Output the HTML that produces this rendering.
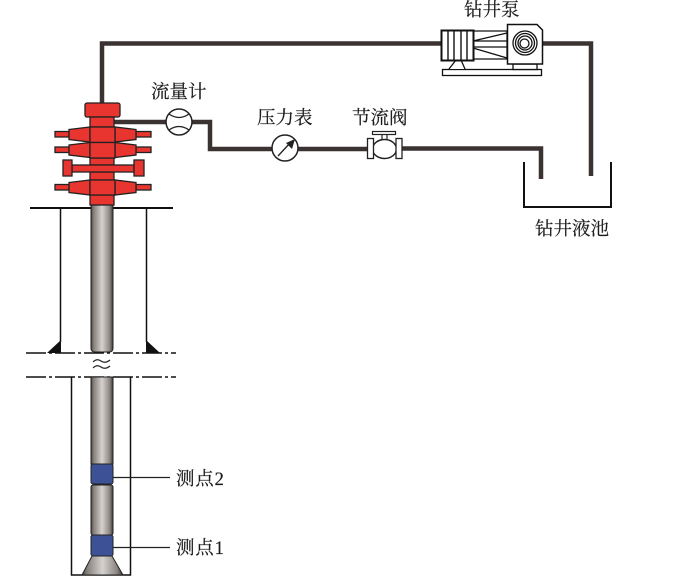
<!DOCTYPE html>
<html><head><meta charset="utf-8">
<style>
html,body{margin:0;padding:0;background:#fff}
svg{display:block}
text{font-family:"Liberation Serif","Noto Serif CJK SC",serif;font-size:18.500px;fill:#1c1c1c;stroke:#1c1c1c;stroke-width:.2px}
</style></head><body>
<svg width="700" height="577" viewBox="0 0 700 577" xmlns="http://www.w3.org/2000/svg">
<defs>
<linearGradient id="p" x1="0" x2="1" y1="0" y2="0">
<stop offset="0" stop-color="#4a4644"/><stop offset=".12" stop-color="#857f7c"/><stop offset=".5" stop-color="#d6d2cf"/><stop offset=".85" stop-color="#8d8683"/><stop offset="1" stop-color="#3e3a38"/>
</linearGradient>
</defs>
<!-- pipes -->
<g fill="none" stroke="#3b3331" stroke-width="4.500">
<path d="M102 104V43.500H443"/>
<path d="M543 43.500H591V176"/>
<path d="M114 122H210V149H367"/>
<path d="M402 148.500H541V179"/>
</g>
<!-- tank -->
<path d="M524 162V207H611V162" fill="none" stroke="#111" stroke-width="2"/>
<!-- ground -->
<g stroke="#111" fill="none">
<path d="M30 208H173" stroke-width="2"/>
<path d="M60.500 208V342M146.500 208V342" stroke-width="1.500"/>
<path d="M26 353H176M26 377H176" stroke-width="1.500" stroke-dasharray="20 3 3 3"/>
<path d="M71.500 377V575H130.500V377" stroke-width="1.500"/>
</g>
<path d="M47 353L61 340V353Z" fill="#111"/>
<path d="M146 340L160 353H146Z" fill="#111"/>
<!-- drill pipe -->
<g stroke="#222" stroke-width="1">
<path d="M91 205H113V348Q113 352 109 352H95Q91 352 91 348Z" fill="url(#p)"/>
<rect x="91" y="377" width="22" height="87" fill="url(#p)"/>
<rect x="91" y="485" width="22" height="50" rx="2" fill="url(#p)"/>
<path d="M92 556H112L123 575H82Z" fill="url(#p)"/>
<rect x="91" y="464" width="22" height="20" rx="2" fill="#3d5196"/>
<rect x="91" y="535" width="22" height="21" rx="2" fill="#3d5196"/>
</g>
<path d="M113 477.500H170M113 547.500H170" stroke="#222" stroke-width="1.300"/>
<text x="176" y="485" letter-spacing=".8">测点2</text>
<text x="176" y="554" letter-spacing=".8">测点1</text>
<path d="M93 362Q97 358 101 361T110 360M93 368Q97 364 101 367T110 366" fill="none" stroke="#222" stroke-width="1.200"/>
<!-- wellhead -->
<g fill="#e8352f" stroke="#222" stroke-width="1.300">
<rect x="85" y="103" width="35" height="14" rx="2"/>
<rect x="90" y="117" width="24" height="10"/>
<rect x="90" y="158" width="24" height="7"/>
<rect x="90" y="172" width="24" height="8"/>
<rect x="90" y="195" width="24" height="10"/>
<g>
<rect x="55" y="131.500" width="14" height="5.500"/>
<rect x="136" y="131.500" width="15" height="5.500"/>
<path d="M69 129.500L90 127V142L69 139.500Z"/>
<path d="M136 129.500L115 127V142L136 139.500Z"/>
<rect x="90" y="127" width="25" height="15.500"/>
</g>
<g transform="translate(0,15.500)">
<rect x="55" y="131.500" width="14" height="5.500"/>
<rect x="136" y="131.500" width="15" height="5.500"/>
<path d="M69 129.500L90 127V142L69 139.500Z"/>
<path d="M136 129.500L115 127V142L136 139.500Z"/>
<rect x="90" y="127" width="25" height="15.500"/>
</g>
<g transform="translate(0,53)">
<rect x="55" y="131.500" width="14" height="5.500"/>
<rect x="136" y="131.500" width="15" height="5.500"/>
<path d="M69 129.500L90 127V142L69 139.500Z"/>
<path d="M136 129.500L115 127V142L136 139.500Z"/>
<rect x="90" y="127" width="25" height="15"/>
</g>
<rect x="72" y="165" width="62" height="7"/>
<rect x="63" y="160" width="9" height="16"/>
<rect x="134" y="160" width="10" height="16"/>
</g>
<!-- flow meter -->
<circle cx="179" cy="122" r="13" fill="#fff" stroke="#222" stroke-width="1.500"/>
<path d="M169 114Q179 121 189 114M169 130Q179 123 189 130" fill="none" stroke="#222" stroke-width="1.300"/>
<text x="151" y="98">流量计</text>
<!-- pressure gauge -->
<circle cx="285" cy="148" r="13" fill="#fff" stroke="#222" stroke-width="1.500"/>
<path d="M278 156L291 142" stroke="#222" stroke-width="1.300"/>
<path d="M295 139L292 149L286 143Z" fill="#222"/>
<text x="257" y="124">压力表</text>
<!-- valve -->
<ellipse cx="384.500" cy="149" rx="12" ry="9.500" fill="#fff" stroke="#222" stroke-width="1.500"/>
<rect x="367.500" y="138.500" width="6" height="20" fill="#fff" stroke="#222" stroke-width="1.300"/>
<rect x="396" y="138.500" width="6" height="20" fill="#fff" stroke="#222" stroke-width="1.300"/>
<rect x="372.500" y="131.500" width="23" height="3" fill="#fff" stroke="#222" stroke-width="1.200"/>
<path d="M382 134.500V140M387 134.500V140" stroke="#222" stroke-width="1.200"/>
<text x="352" y="124">节流阀</text>
<!-- pump -->
<g stroke="#111" fill="#fff" stroke-width="1.300">
<rect x="442.500" y="69.500" width="99" height="6"/>
<path d="M449 69L456 60H461L465 69" />
<rect x="513" y="64" width="24" height="5.500"/>
<path d="M473 31H507V59H473Z" fill="#fff"/>
<path d="M473 41L507 33M473 41H507M473 47H507M473 48L507 58" fill="none"/>
<rect x="441.500" y="30.500" width="32" height="30" stroke-width="2"/>
<path d="M448 31V60M454 31V60M461 31V60M467 31V60" fill="none" stroke-width="1.400"/>
<path d="M507.500 24.500H537L542.500 30V64H507.500Z" stroke-width="1.500"/>
<circle cx="525" cy="43" r="12" fill="none" stroke-width="1.300"/>
<circle cx="525" cy="43" r="9.500" fill="none" stroke-width="1.300"/>
<circle cx="525" cy="43" r="7" fill="none" stroke-width="1.300"/>
<circle cx="524.500" cy="43.500" r="4.500" fill="#fff" stroke-width="1.300"/>
</g>
<text x="464" y="16">钻井泵</text>
<text x="535" y="235">钻井液池</text>
</svg>
</body></html>
